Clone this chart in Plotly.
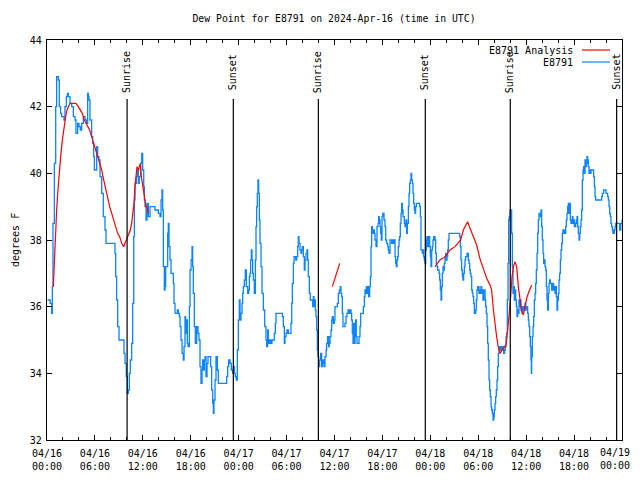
import plotly.graph_objects as go

# ---------------- data (hours since 2024-04-16 00:00 UTC) ----------------
blue_hours = [
    0.08, 0.17, 0.40, 0.58, 0.67, 0.75, 0.92, 1.09, 1.21, 1.42, 1.54, 1.70, 1.84, 2.13, 2.25, 2.42, 2.55, 2.67,
    2.88, 3.09, 3.30, 3.51, 3.63, 3.84, 4.00, 4.17, 4.34, 4.55, 4.76, 4.97, 5.09, 5.18, 5.26, 5.38, 5.59, 5.72,
    5.84, 5.93, 6.09, 6.22, 6.34, 6.51, 6.64, 6.85, 7.05, 7.26, 7.39, 7.68, 8.10, 8.31, 8.51, 8.60, 8.72, 8.85,
    9.02, 9.35, 9.56, 9.64, 9.77, 9.93, 10.06, 10.18, 10.31, 10.43, 10.60, 10.73, 10.86, 10.94, 11.02, 11.19,
    11.31, 11.44, 11.56, 11.73, 11.86, 11.98, 12.11, 12.19, 12.27, 12.40, 12.52, 12.69, 12.90, 13.11, 13.32,
    13.52, 13.94, 14.15, 14.28, 14.40, 14.48, 14.57, 14.69,
    14.78, 14.86, 14.99, 15.11, 15.19, 15.28, 15.40, 15.53, 15.70, 15.82, 15.90, 16.03, 16.24, 16.32, 16.45,
    16.57, 16.66, 16.78, 16.91, 17.07, 17.16, 17.28, 17.36, 17.49, 17.57, 17.66, 17.83, 17.91, 18.04, 18.16,
    18.24, 18.32, 18.45, 18.57, 18.74, 18.91, 19.03, 19.16, 19.28, 19.41, 19.49, 19.62, 19.70, 19.79, 19.91,
    20.04, 20.16, 20.33, 20.49, 20.62, 20.75, 20.83, 20.91, 21.04, 21.16, 21.33, 21.45, 21.66, 22.41, 22.50,
    22.62, 22.75, 22.92, 23.08, 23.25, 23.33, 23.46, 23.58, 23.71, 23.83, 23.96, 24.08, 24.17, 24.29, 24.42,
    24.50, 24.58, 24.71, 24.83, 24.96, 25.13, 25.25, 25.34, 25.42, 25.50, 25.59, 25.67, 25.75, 25.84, 25.96,
    26.09, 26.17, 26.25, 26.34, 26.42, 26.50, 26.59, 26.67, 26.80, 26.92, 27.09, 27.26, 27.42, 27.51, 27.63,
    27.71, 27.84, 28.01, 28.17, 28.34, 28.46, 28.59, 28.67, 28.80,
    28.97, 29.38, 29.47, 29.59, 29.72, 29.80, 29.93, 30.05, 30.22, 30.43, 30.55, 30.64, 30.72, 30.85, 30.93,
    31.05, 31.14, 31.26, 31.39, 31.47, 31.55, 31.68, 31.81, 31.89, 31.97, 32.10, 32.22, 32.31, 32.43, 32.56,
    32.64, 32.72, 32.85, 32.97, 33.14, 33.27, 33.35, 33.43, 33.52, 33.60, 33.68, 33.77, 33.85, 33.93, 34.02,
    34.14, 34.27, 34.39, 34.52, 34.64, 34.73, 34.81, 34.94, 35.02, 35.14, 35.27, 35.35, 35.44, 35.56, 35.65,
    35.73, 35.85, 35.98, 36.06, 36.23, 36.35, 36.48, 36.61, 36.73, 36.81, 36.90, 36.98, 37.06, 37.19, 37.31,
    37.44, 37.56, 37.69, 37.82, 37.94, 38.07, 38.15, 38.23, 38.32, 38.40, 38.48, 38.57, 38.65, 38.73, 38.82,
    38.90, 38.98, 39.07, 39.19, 39.28, 39.36, 39.48, 39.61, 39.74, 39.82, 39.90, 39.99, 40.11, 40.19, 40.28,
    40.40, 40.49, 40.57, 40.65, 40.74, 40.82, 40.90, 40.99, 41.07, 41.20, 41.32, 41.45, 41.53, 41.61, 41.70,
    41.78, 41.86, 41.95, 42.03, 42.11, 42.20, 42.32, 42.41, 42.53, 42.66, 42.74, 42.82, 42.95, 43.07, 43.16,
    43.28, 43.41, 43.49,
    43.58, 43.66, 43.74, 43.83, 43.91, 43.99, 44.08, 44.16, 44.24, 44.33, 44.41, 44.49, 44.58, 44.66, 44.74,
    44.83, 44.95, 45.04, 45.12, 45.25, 45.33, 45.41, 45.50, 45.58, 45.66, 45.75, 45.83, 45.91, 46.00, 46.08,
    46.16, 46.25, 46.33, 46.46, 46.58, 46.66, 46.75, 46.83, 46.91, 47.00, 47.08, 47.17, 47.25, 47.33, 47.42,
    47.50, 47.58, 47.67, 47.75, 47.83, 47.92, 48.00, 48.08, 48.17, 48.25, 48.33, 48.42, 48.50, 48.58, 48.67,
    48.75, 48.83, 48.92, 49.00, 49.09, 49.17, 49.25, 49.34, 49.42, 49.50, 49.59, 49.67, 49.75, 49.84, 49.92,
    50.00, 50.09, 50.17, 50.25, 50.34, 50.42, 50.70, 51.00, 51.30, 51.67, 51.76, 51.84, 51.92, 52.01, 52.09,
    52.17, 52.26, 52.34, 52.42, 52.51, 52.59, 52.67, 52.76, 52.84, 52.93, 53.01, 53.09, 53.18, 53.26, 53.34,
    53.43, 53.51, 53.59, 53.68, 53.76, 53.84, 53.93, 54.01, 54.09, 54.18, 54.26, 54.34, 54.43, 54.51, 54.59,
    54.68, 54.76, 54.85, 54.93, 55.01, 55.10, 55.18, 55.26, 55.35, 55.43, 55.51, 55.60, 55.68, 55.76, 55.85,
    55.93, 56.01, 56.10, 56.18, 56.26, 56.35, 56.43, 56.51, 56.60, 56.68, 56.77, 56.85, 56.93, 57.01, 57.10,
    57.18, 57.30, 57.40,
    57.48, 57.56, 57.64, 57.73, 57.81, 57.89, 57.98, 58.06, 58.14, 58.18, 58.27, 58.35, 58.44, 58.52, 58.60,
    58.69, 58.77, 58.85, 58.94, 59.02, 59.10, 59.19, 59.27, 59.35, 59.44, 59.52, 59.60, 59.69, 59.77, 59.85,
    59.94, 60.06, 60.19, 60.27, 60.35, 60.44, 60.52, 60.60, 60.65, 60.69, 60.77, 60.86, 60.94, 61.02, 61.11,
    61.19, 61.27, 61.36, 61.44, 61.52, 61.61, 61.69, 61.77, 61.86, 61.94, 62.02, 62.11, 62.19, 62.27, 62.36,
    62.44, 62.53, 62.61, 62.69, 62.78, 62.86, 62.94, 63.03, 63.11, 63.19, 63.28, 63.36, 63.44, 63.53, 63.61,
    63.69, 63.78, 63.86, 63.94, 64.03, 64.11, 64.19, 64.28, 64.36, 64.45, 64.53, 64.61, 64.70, 64.78, 64.86,
    64.95, 65.03, 65.11, 65.20, 65.28, 65.36, 65.45, 65.53, 65.61, 65.70, 65.78, 65.86, 65.95, 66.03, 66.11,
    66.20, 66.28, 66.37, 66.45, 66.53, 66.62, 66.70, 66.78, 66.87, 66.95, 67.03, 67.12, 67.20, 67.28, 67.37,
    67.45, 67.53, 67.62, 67.70, 67.78, 67.87, 67.95, 68.03, 68.12, 68.20, 68.29, 68.37, 68.45, 68.54, 68.62,
    68.70, 69.37, 69.45, 69.54, 69.62, 69.70, 69.87, 70.00, 70.12, 70.20, 70.29, 70.37, 70.46, 70.54, 70.62,
    70.70, 70.79, 70.87, 70.96, 71.04, 71.12, 71.21, 71.29, 71.37, 71.54, 71.70, 71.85, 72.00,
]
blue_dewpt = [
    36.2, 36.2, 36.1, 35.8, 36.6, 38.5, 40.3, 42.0, 42.9, 42.8, 42.0, 41.8, 41.7, 41.6, 42.0, 42.3, 42.4, 42.3,
    42.1, 42.0, 41.7, 41.6, 41.2, 41.5, 41.4, 41.3, 41.5, 41.7, 41.6, 41.5, 42.4, 42.3, 42.2, 41.6, 41.1, 40.9,
    40.5, 40.1, 40.1, 40.8, 40.5, 40.4, 39.9, 39.4, 38.7, 38.3, 37.9, 37.9, 37.9, 37.9, 37.6, 36.9, 36.2, 35.4,
    35.0, 35.0, 35.0, 34.6, 34.3, 33.9, 33.4, 33.5, 34.0, 34.4, 34.9, 36.1, 38.1, 39.2, 39.7, 39.9,
    40.1, 39.7, 39.9, 40.3, 40.6, 40.1, 39.6, 39.2, 39.0, 38.6, 39.1, 38.7, 39.0, 39.0, 39.0,
    38.9, 38.8, 38.7, 39.2, 39.5, 38.9, 37.2, 36.5,
    36.6, 37.2, 37.2, 38.2, 38.5, 37.8, 37.4, 37.0, 37.0, 36.7, 36.1, 35.8, 35.8, 35.9, 35.8,
    35.7, 35.4, 35.0, 34.6, 34.4, 34.8, 35.7, 35.2, 35.6, 34.9, 34.8, 36.0, 37.1, 37.4, 37.8,
    37.2, 36.4, 35.4, 34.9, 35.4, 35.2, 35.0, 34.2, 33.7, 34.1, 34.4, 34.1, 34.4, 34.5, 33.9,
    34.3, 34.5, 34.5, 34.2, 33.5, 33.1, 32.8, 33.2, 33.8, 34.5, 34.1, 33.7, 33.7, 33.7, 33.9,
    34.2, 34.4, 34.3, 34.1, 34.0, 34.2, 34.0, 33.9, 33.8, 34.7, 35.6, 36.2, 35.6, 35.8, 36.1,
    36.4, 36.6, 36.8, 37.1, 36.6, 36.4, 36.5, 36.9, 37.0, 37.4, 37.7, 37.4, 37.0, 36.8, 36.4,
    37.4, 38.4, 39.0, 39.4, 39.8, 39.4, 38.6, 37.9, 37.2, 36.4, 35.9, 35.4, 35.0, 34.8, 35.3,
    34.9, 35.0, 34.9, 35.0, 35.0, 35.2, 35.5, 35.8, 35.8,
    35.8, 35.8, 35.7, 35.4, 34.9, 35.1, 35.2, 35.3, 35.2, 35.2, 35.5, 36.1, 36.7, 37.3, 37.5,
    37.5, 37.4, 37.5, 37.8, 38.1, 37.9, 37.7, 37.6, 37.7, 37.8, 37.5, 37.1, 37.4, 37.6, 37.7,
    37.4, 36.9, 36.4, 36.2, 36.2, 36.0, 36.3, 36.0, 36.2, 35.9, 35.7, 35.3, 34.7, 34.5, 34.2,
    34.4, 34.6, 34.2, 34.4, 34.3, 34.2, 34.5, 34.7, 34.9, 35.1, 34.8, 34.9, 35.1, 35.3, 35.6,
    35.7, 35.5, 35.6, 36.0, 36.0, 36.1, 36.4, 36.5, 36.6, 36.4, 36.3, 35.8, 35.4, 35.4, 35.5,
    35.7, 35.8, 35.9, 35.8, 35.9, 35.8, 35.6, 35.2, 34.9, 35.5, 34.9, 35.2, 35.6, 35.1, 34.9,
    34.9, 34.9, 35.1, 35.4, 35.8, 35.8, 35.8, 36.0, 36.3, 36.5, 36.4, 36.6, 36.4, 36.6, 36.3,
    36.6, 36.9, 37.8, 38.4, 38.3, 38.2, 38.3, 38.2, 38.0, 37.8, 38.4, 38.5, 38.7, 38.6, 38.4,
    38.2, 38.0, 38.7, 38.8, 38.8, 38.6, 38.4, 38.0, 37.9, 37.8, 37.7, 37.6, 38.0, 38.0, 37.9,
    38.0, 37.9, 38.0,
    37.5, 37.3, 37.2, 37.4, 37.5, 37.8, 38.0, 38.1, 38.5, 38.8, 39.1, 38.9, 38.7, 38.7, 38.5,
    38.4, 38.6, 38.2, 38.5, 39.0, 39.4, 39.7, 39.8, 40.0, 39.8, 39.7, 39.4, 39.1, 38.9, 38.8,
    39.0, 39.1, 39.1, 39.1, 39.1, 39.0, 38.7, 37.7, 37.7, 37.6, 37.7, 37.5, 37.4, 37.3, 37.7,
    38.0, 38.1, 37.8, 37.9, 38.1, 37.8, 37.5, 37.2, 37.7, 37.8, 38.0, 38.1, 38.1, 38.0, 37.6,
    37.3, 37.2, 37.1, 37.1, 37.0, 36.8, 36.5, 36.2, 36.6, 37.0, 37.2, 37.1, 37.3, 37.5, 37.6,
    37.4, 37.5, 37.7, 38.0, 38.2, 38.2, 38.2, 38.2, 38.2, 38.1, 37.8, 37.4, 37.1, 36.9, 36.8,
    37.0, 37.2, 37.4, 37.5, 37.5, 37.6, 37.6, 37.4, 37.3, 37.1, 37.0, 36.9, 36.5, 36.4, 36.3,
    36.1, 35.8, 35.8, 35.9, 36.2, 36.5, 36.6, 36.6, 36.4, 36.5, 36.4, 36.6, 36.5, 36.4, 36.2,
    36.5, 36.5, 36.2, 36.0, 35.8, 35.4, 34.9, 34.4, 33.8, 33.5, 33.3, 33.0, 32.9, 32.8, 32.6,
    32.7, 32.9, 33.1, 33.3, 33.5, 33.8, 34.2, 34.6, 34.7, 34.8, 34.7, 34.8, 34.7, 34.7, 34.8,
    34.6, 34.7, 34.8,
    35.1, 35.2, 36.2, 37.3, 38.6, 38.7, 38.9, 38.7, 38.9, 38.2, 37.2, 36.4, 36.6, 36.2, 36.5,
    36.2, 36.0, 35.7, 35.9, 35.8, 36.2, 36.0, 36.2, 35.9, 36.0, 35.8, 36.0, 35.9, 36.0, 36.1,
    35.9, 36.0, 35.8, 35.6, 35.4, 35.1, 34.8, 34.4, 34.0, 34.5, 35.1, 35.4, 35.7, 36.2, 36.4,
    36.7, 37.1, 37.6, 38.2, 38.6, 38.8, 38.7, 38.8, 38.9, 38.4, 38.0, 37.6, 37.3, 37.4, 37.2,
    37.1, 36.6, 36.2, 35.9, 36.4, 36.7, 36.8, 36.7, 36.7, 36.5, 36.6, 36.7, 36.5, 36.6, 36.4,
    36.6, 36.3, 35.9, 36.2, 36.4, 36.8, 37.0, 37.4, 37.7, 37.9, 38.2, 38.3, 38.2, 38.3, 38.2,
    38.4, 38.6, 38.8, 39.0, 39.1, 38.8, 39.1, 38.6, 38.5, 38.6, 38.7, 38.5, 38.6, 38.4, 38.4,
    38.5, 38.6, 38.7, 38.4, 38.2, 38.0, 38.2, 38.4, 38.6, 38.9, 39.8, 40.1, 40.2, 40.0, 40.4,
    40.2, 40.3, 40.5, 40.4, 40.2, 40.0, 40.1, 40.0, 40.1, 40.1, 40.1, 40.1, 39.9, 39.6, 39.3,
    39.2, 39.2, 39.3, 39.4, 39.4, 39.5, 39.5, 39.4, 39.4, 39.3, 39.2, 39.0, 38.8, 38.7, 38.5,
    38.4, 38.3, 38.2, 38.2, 38.3, 38.4, 38.5, 38.5, 38.5, 38.5, 38.3, 38.5, 38.6,
]

red_seg1_hours = [0.79, 0.92, 1.04, 1.21, 1.34, 1.50, 1.71, 1.92, 2.13, 2.34, 2.50, 2.67, 2.88, 3.09, 3.30,
                  3.51, 3.63, 3.92, 4.17, 4.42, 4.67, 4.92, 5.09, 5.34, 5.59, 5.84, 6.09, 6.34, 6.59, 6.85,
                  7.10, 7.35, 7.60, 7.85, 8.10, 8.35, 8.60, 8.85, 9.10, 9.35, 9.60, 9.77, 9.93, 10.10, 10.27,
                  10.43, 10.60, 10.77, 10.89, 11.02, 11.14, 11.27, 11.44, 11.56, 11.69, 11.81, 11.94, 12.06,
                  12.19, 12.27, 12.40, 12.52, 12.69]
red_seg1_dewpt = [36.6, 37.4, 38.2, 38.9, 39.4, 40.0, 40.5, 41.0, 41.4, 41.7, 41.9, 42.0, 42.1, 42.1, 42.1,
                  42.1, 42.1, 42.0, 41.9, 41.8, 41.6, 41.5, 41.4, 41.3, 41.1, 40.9, 40.7, 40.5, 40.3, 40.1,
                  39.8, 39.5, 39.3, 39.0, 38.8, 38.6, 38.4, 38.2, 38.1, 37.9, 37.8, 37.9, 38.0, 38.1, 38.2,
                  38.3, 38.5, 38.8, 39.1, 39.6, 40.0, 40.2, 40.1, 40.2, 40.3, 39.9, 39.7, 39.6,
                  39.3, 39.2, 39.0, 39.0, 38.8]
red_seg2_hours = [35.73, 36.20, 36.65]
red_seg2_dewpt = [36.6, 36.95, 37.3]
red_seg3_hours = [48.58, 49.21, 49.84, 50.46, 51.09, 51.51, 51.80, 52.13, 52.47, 52.67, 52.97, 53.38, 53.80,
                  54.20, 54.64, 55.05, 55.47, 55.68, 55.90, 56.10, 56.30, 56.50, 56.72, 57.14, 57.48, 57.69,
                  57.90, 58.06, 58.23, 58.40, 58.60, 58.81, 59.02, 59.23, 59.44, 59.65, 59.85, 60.06, 60.27,
                  60.48, 60.69]
red_seg3_dewpt = [37.2, 37.4, 37.5, 37.7, 37.8, 37.9, 38.0, 38.3, 38.45, 38.55, 38.35, 38.1, 37.85,
                  37.45, 37.1, 36.85, 36.65, 36.5, 35.9, 35.4, 35.1, 34.8, 34.6, 34.75, 34.85, 35.3,
                  35.8, 36.3, 36.9, 37.2, 37.35, 37.2, 36.6, 36.2, 35.85, 35.75, 36.0, 36.25, 36.4,
                  36.55, 36.65]

sun_event_hours = [10.03, 23.33, 33.98, 47.37, 58.01, 71.33]
sun_event_labels = ["Sunrise", "Sunset", "Sunrise", "Sunset", "Sunrise", "Sunset"]

x_tick_hours = [0, 6, 12, 18, 24, 30, 36, 42, 48, 54, 60, 66, 72]
x_tick_labels = ["04/16<br>00:00", "04/16<br>06:00", "04/16<br>12:00", "04/16<br>18:00",
                 "04/17<br>00:00", "04/17<br>06:00", "04/17<br>12:00", "04/17<br>18:00",
                 "04/18<br>00:00", "04/18<br>06:00", "04/18<br>12:00", "04/18<br>18:00",
                 "04/19<br>00:00"]

series_names = ["E8791 Analysis", "E8791"]
series_colors = ["#ff0000", "#0a84ff"]

# ---------------- figure ----------------
FONT = "DejaVu Sans Mono"
red_x = red_seg1_hours + [None] + red_seg2_hours + [None] + red_seg3_hours
red_y = red_seg1_dewpt + [None] + red_seg2_dewpt + [None] + red_seg3_dewpt

fig = go.Figure()
fig.add_trace(go.Scatter(x=blue_hours, y=blue_dewpt, mode="lines", name=series_names[1],
                         line=dict(color=series_colors[1], width=1.3, shape="hv"), showlegend=False))
fig.add_trace(go.Scatter(x=red_x, y=red_y, mode="lines", name=series_names[0], connectgaps=False,
                         line=dict(color=series_colors[0], width=1.2), showlegend=False))

# The page body has an 8px margin, so the figure origin sits at (8, 8) in the window.
# Keep the figure inside the window (no scrollbars): 8 + size + 8 <= window size.
OFF = 8
FW, FH = 640 - 2 * OFF, 480 - 2 * OFF
PX0, PX1, PY0, PY1 = 47, 622, 40, 440          # target plot box in window pixels
L, R, T, B = PX0 - OFF, FW - (PX1 - OFF), PY0 - OFF, FH - (PY1 - OFF)
PW, PH = PX1 - PX0, PY1 - PY0
RIGHT_EDGE = OFF + FW                           # last visible window pixel column of the figure

# last tick label drawn as an annotation so it stays inside the figure
tick_text_axis = x_tick_labels[:-1] + [""]

shapes = []
annotations = []
for h, lab in zip(sun_event_hours, sun_event_labels):
    shapes.append(dict(type="line", xref="x", yref="paper", x0=h, x1=h, y0=0, y1=(PY1 - 99) / PH,
                       line=dict(color="black", width=1.2), layer="above"))
    annotations.append(dict(x=h, y=(PY1 - 72) / PH, xref="x", yref="paper", text=lab, textangle=-90,
                            showarrow=False, xanchor="center", yanchor="middle",
                            font=dict(family=FONT, size=10, color="black")))

annotations.append(dict(x=(RIGHT_EDGE - PX0) / PW, y=0, xref="paper", yref="paper",
                        text=x_tick_labels[-1], showarrow=False, xanchor="right", yanchor="top",
                        yshift=-5, align="center", font=dict(family=FONT, size=10, color="black")))

# gnuplot-style key: text right-aligned, line sample to its right
for i, (name, col) in enumerate(zip(series_names, series_colors)):
    ypix = 50 + 12 * i
    yp = (PY1 - ypix) / PH
    annotations.append(dict(x=(575 - PX0) / PW, y=yp, xref="paper", yref="paper", text=name,
                            showarrow=False, xanchor="right", yanchor="middle",
                            font=dict(family=FONT, size=10, color="black")))
    shapes.append(dict(type="line", xref="paper", yref="paper", x0=(582 - PX0) / PW, x1=(610 - PX0) / PW,
                       y0=yp, y1=yp, line=dict(color=col, width=1.2)))

annotations.append(dict(x=(15 - PX0) / PW, y=0.5, xref="paper", yref="paper", text="degrees F",
                        textangle=-90, showarrow=False, xanchor="center", yanchor="middle",
                        font=dict(family=FONT, size=10, color="black")))

fig.update_layout(
    width=FW, height=FH, autosize=False,
    margin=dict(l=L, r=R, t=T, b=B, pad=0, autoexpand=False),
    paper_bgcolor="white", plot_bgcolor="white",
    font=dict(family=FONT, size=10, color="black"),
    title=dict(text="Dew Point for E8791 on 2024-Apr-16 (time in UTC)", x=(334 - OFF) / FW, xanchor="center",
               y=1 - (19 - OFF) / FH, yanchor="middle", yref="container",
               font=dict(family=FONT, size=9.8, color="black")),
    shapes=shapes, annotations=annotations, showlegend=False,
    xaxis=dict(range=[0, 72], tickmode="array", tickvals=x_tick_hours, ticktext=tick_text_axis,
               ticks="inside", ticklen=5, tickwidth=1, tickcolor="black",
               showline=True, linecolor="black", linewidth=1.2, mirror="ticks",
               showgrid=False, zeroline=False, tickangle=0, automargin=False, ticklabelstandoff=4,
               minor=dict(dtick=2, tick0=0, ticks="inside", ticklen=3, tickcolor="black", showgrid=False),
               tickfont=dict(family=FONT, size=10, color="black")),
    yaxis=dict(range=[32, 44], dtick=2, tick0=32, ticks="inside", ticklen=5, tickwidth=1, tickcolor="black",
               showline=True, linecolor="black", linewidth=1.2, mirror="ticks",
               showgrid=False, zeroline=False, automargin=False, ticklabelstandoff=2,
               tickfont=dict(family=FONT, size=10, color="black")),
)

fig.write_html("out.html")
